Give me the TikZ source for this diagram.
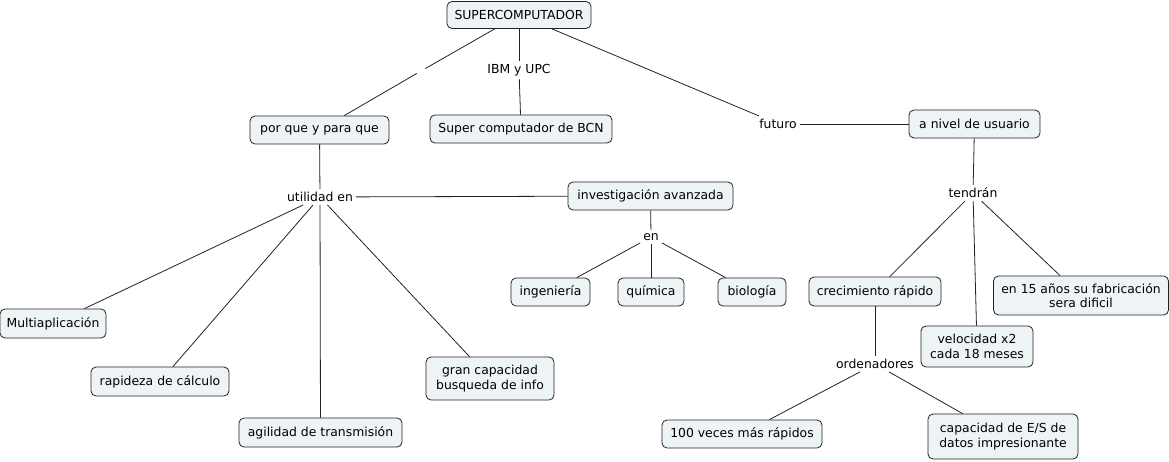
\documentclass[tikz,border=0pt]{standalone}
\usepackage{fontspec}
\setmainfont{DejaVu Sans}
\definecolor{boxfill}{HTML}{EEF3F6}
\definecolor{edge}{HTML}{222222}
\begin{document}
\begin{tikzpicture}[x=1pt,y=-1pt,
  box/.style={draw=edge, fill=boxfill, rounded corners=5pt, line width=0.8pt, inner sep=2pt, align=center,
    font=\fontsize{12.4}{14.5}\selectfont, minimum height=28pt},
  lab/.style={inner sep=3pt, font=\fontsize{12.4}{14.5}\selectfont},
  link/.style={draw=edge, line width=0.8pt}]
\useasboundingbox (0,0) rectangle (1169,462);

% boxes
\node[box, minimum width=144pt, minimum height=27pt] (sup) at (519,15) {SUPERCOMPUTADOR};
\node[box, minimum width=182pt] (bcn) at (521,129) {Super computador de BCN};
\node[box, minimum width=139pt] (porq) at (319.5,130) {por que y para que};
\node[box, minimum width=165pt] (inv) at (650.5,196) {investigación avanzada};
\node[box, minimum width=79pt] (ing) at (550.5,292) {ingeniería};
\node[box, minimum width=66pt] (qui) at (651,292) {química};
\node[box, minimum width=68pt] (bio) at (752,292) {biología};
\node[box, minimum width=106pt, minimum height=29pt] (multi) at (53,323.5) {Multiaplicación};
\node[box, minimum width=138pt, minimum height=29pt] (rap) at (160,381.5) {rapideza de cálculo};
\node[box, minimum width=163pt, minimum height=29pt] (agil) at (320.5,432.5) {agilidad de transmisión};
\node[box, minimum width=128pt, minimum height=43pt] (gran) at (490,378.5) {gran capacidad\\busqueda de info};
\node[box, minimum width=131pt] (niv) at (974.5,124) {a nivel de usuario};
\node[box, minimum width=132pt, minimum height=29pt] (crec) at (875,291.5) {crecimiento rápido};
\node[box, minimum width=112pt, minimum height=41pt] (vel) at (977,346.5) {velocidad x2\\cada 18 meses};
\node[box, minimum width=175pt, minimum height=39pt] (quince) at (1081,295.5) {en 15 años su fabricación\\sera dificil};
\node[box, minimum width=160pt] (cien) at (742,434) {100 veces más rápidos};
\node[box, minimum width=150pt, minimum height=45pt] (cap) at (1003,436.5) {capacidad de E/S de\\datos impresionante};

% link labels
\node[lab] (ibm) at (519,70) {IBM y UPC};
\node[inner sep=0pt, minimum size=8pt] (gap) at (421,71) {};
\node[lab] (futuro) at (778,124) {futuro};
\node[lab] (util) at (320,197) {utilidad en};
\node[lab] (en) at (651,237) {en};
\node[lab] (tend) at (973,193) {tendrán};
\node[lab] (orden) at (875,364) {ordenadores};

% connectors
\draw[link] (sup) -- (gap);
\draw[link] (gap) -- (porq);
\draw[link] (sup) -- (ibm);
\draw[link] (ibm) -- (bcn);
\draw[link] (sup) -- (futuro);
\draw[link] (futuro) -- (niv);
\draw[link] (porq) -- (util);
\draw[link] (util) -- (inv);
\draw[link] (util) -- (multi);
\draw[link] (util) -- (rap);
\draw[link] (util) -- (agil);
\draw[link] (util) -- (gran);
\draw[link] (inv) -- (en);
\draw[link] (en) -- (ing);
\draw[link] (en) -- (qui);
\draw[link] (en) -- (bio);
\draw[link] (niv) -- (tend);
\draw[link] (tend) -- (crec);
\draw[link] (tend) -- (vel);
\draw[link] (tend) -- (quince);
\draw[link] (crec) -- (orden);
\draw[link] (orden) -- (cien);
\draw[link] (orden) -- (cap);
\end{tikzpicture}
\end{document}
